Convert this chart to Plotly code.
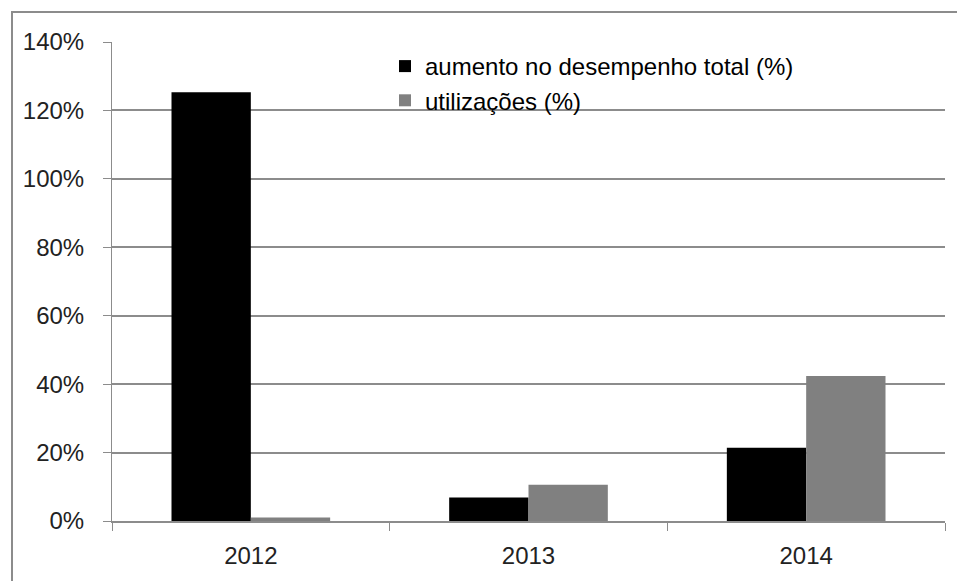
import plotly.graph_objects as go

years = ["2012", "2013", "2014"]
aumento = [125.3, 6.9, 21.4]
utilizacoes = [1.0, 10.6, 42.4]
series_names = ["aumento no desempenho total (%)", "utilizações (%)"]
y_ticks = [0, 20, 40, 60, 80, 100, 120, 140]
y_tick_labels = ["0%", "20%", "40%", "60%", "80%", "100%", "120%", "140%"]

W, H = 957, 581
L, R, T, B = 112, 12, 42, 60
pw, ph = W - L - R, H - T - B

fig = go.Figure()
fig.add_trace(go.Bar(x=years, y=aumento, name=series_names[0],
                     marker=dict(color="#000000", line=dict(width=0))))
fig.add_trace(go.Bar(x=years, y=utilizacoes, name=series_names[1],
                     marker=dict(color="#808080", line=dict(width=0))))

font = "Liberation Sans, Arial, sans-serif"

fig.update_layout(
    width=W, height=H,
    margin=dict(l=L, r=R, t=T, b=B, pad=0, autoexpand=False),
    paper_bgcolor="white", plot_bgcolor="white",
    barmode="group", bargap=0.4286, bargroupgap=0,
    font=dict(family=font, size=24, color="#222222"),
    showlegend=True,
    legend=dict(x=(385 - L) / pw, y=1 - (44 - T) / ph, xanchor="left", yanchor="top",
                bgcolor="rgba(0,0,0,0)", font=dict(family=font, size=24, color="#000000"),
                itemwidth=30, tracegroupgap=0),
    xaxis=dict(showline=True, linecolor="#8c8c8c", linewidth=2, automargin=False,
               ticks="outside", tickson="boundaries", ticklen=8, tickcolor="#8c8c8c",
               tickwidth=1, ticklabelstandoff=12, showgrid=False,
               tickfont=dict(family=font, size=24, color="#222222")),
    yaxis=dict(range=[0, 140], tickvals=y_ticks, ticktext=y_tick_labels, automargin=False,
               showline=True, linecolor="#8c8c8c", linewidth=1,
               ticks="outside", ticklen=8, tickcolor="#8c8c8c", tickwidth=1,
               ticklabelstandoff=14, showgrid=True, gridcolor="#8c8c8c", gridwidth=2,
               zeroline=False,
               tickfont=dict(family=font, size=24, color="#222222")),
    shapes=[dict(type="rect", xref="paper", yref="paper",
                 x0=(12 - L) / pw, x1=(W + 10 - L) / pw,
                 y0=-(H + 10 - T - ph) / ph, y1=1 + (T - 12) / ph,
                 line=dict(color="#8c8c8c", width=2), fillcolor="rgba(0,0,0,0)", layer="below")],
)

fig.write_html("out.html", config={"displayModeBar": False},
               post_script="document.body.style.margin='0';document.body.style.overflow='hidden';")
